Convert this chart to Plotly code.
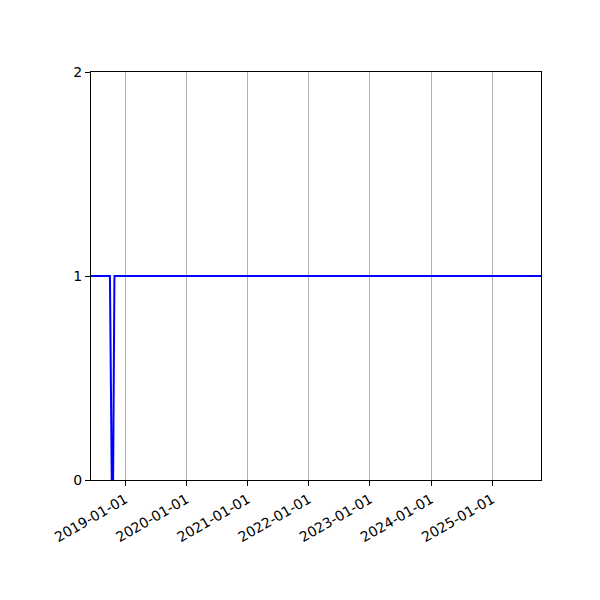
import plotly.graph_objects as go

# series (value is 1 everywhere except a short dip to 0 late 2018)
dates = ["2018-06-10", "2018-10-01", "2018-10-12", "2018-10-20", "2018-10-28", "2025-10-19"]
values = [1, 1, 0, 0, 1, 1]

tick_dates = ["2019-01-01", "2020-01-01", "2021-01-01", "2022-01-01",
              "2023-01-01", "2024-01-01", "2025-01-01"]
y_ticks = [0, 1, 2]

fig = go.Figure()
fig.add_trace(go.Scatter(x=dates, y=values, mode="lines",
                         line=dict(color="blue", width=2)))

# margins compensate for the page's 8px body offset
fig.update_layout(
    width=600, height=600,
    margin=dict(l=83, r=67, t=64, b=128),
    paper_bgcolor="white", plot_bgcolor="white",
    font=dict(family="DejaVu Sans", size=14, color="black"),
    showlegend=False,
    xaxis=dict(
        type="date", range=["2018-06-10", "2025-10-19"],
        tickvals=tick_dates, ticktext=tick_dates, tickangle=-30,
        showgrid=True, gridcolor="#b0b0b0", gridwidth=1,
        showline=True, linecolor="black", linewidth=1, mirror=True,
        ticks="outside", ticklen=5, tickcolor="black", zeroline=False,
    ),
    yaxis=dict(
        range=[0, 2], tickvals=y_ticks, showgrid=False,
        showline=True, linecolor="black", linewidth=1, mirror=True,
        ticks="outside", ticklen=5, tickcolor="black", zeroline=False,
    ),
)

fig.write_html("out.html")
